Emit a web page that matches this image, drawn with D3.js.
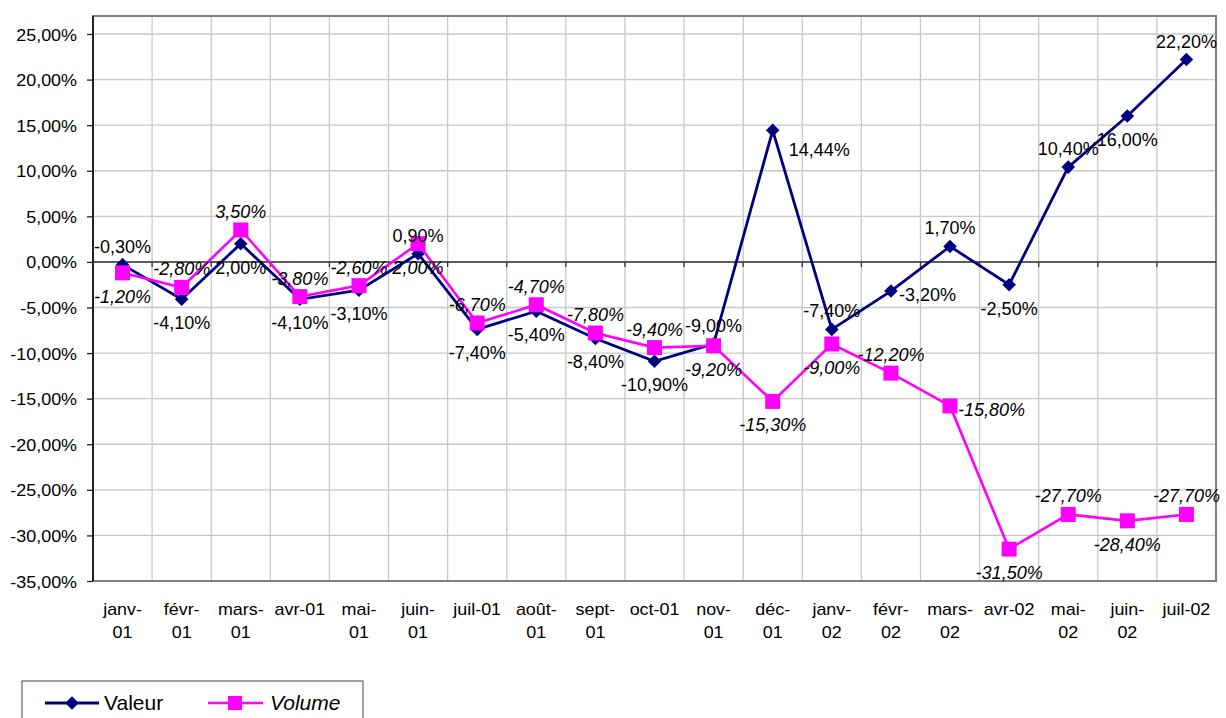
<!DOCTYPE html>
<html>
<head>
<meta charset="utf-8">
<script src="https://cdn.jsdelivr.net/npm/d3@7"></script>
<style>
  body { margin: 0; background: #fff; }
  text { font-family: Arial, "Liberation Sans", sans-serif; font-size: 16px; fill: #000; }
</style>
</head>
<body>
<div id="chart"></div>
<script>
// categories (two-line axis labels)
const months = ['janv-01', 'févr-01', 'mars-01', 'avr-01', 'mai-01', 'juin-01', 'juil-01', 'août-01',
  'sept-01', 'oct-01', 'nov-01', 'déc-01', 'janv-02', 'févr-02', 'mars-02', 'avr-02', 'mai-02', 'juin-02', 'juil-02'];
const monthLines = [['janv-', '01'], ['févr-', '01'], ['mars-', '01'], ['avr-01'], ['mai-', '01'], ['juin-', '01'],
  ['juil-01'], ['août-', '01'], ['sept-', '01'], ['oct-01'], ['nov-', '01'], ['déc-', '01'], ['janv-', '02'],
  ['févr-', '02'], ['mars-', '02'], ['avr-02'], ['mai-', '02'], ['juin-', '02'], ['juil-02']];

// series values (%)
const valeur = [-0.3, -4.1, 2.0, -4.1, -3.1, 0.9, -7.4, -5.4, -8.4, -10.9, -9.0, 14.44, -7.4, -3.2, 1.7, -2.5, 10.4, 16.0, 22.2];
const volume = [-1.2, -2.8, 3.5, -3.8, -2.6, 2.0, -6.7, -4.7, -7.8, -9.4, -9.2, -15.3, -9.0, -12.2, -15.8, -31.5, -27.7, -28.4, -27.7];

// data label placement: a = above, b = below, r = right, br = below right
const valeurPos = ['a', 'b', 'b', 'b', 'b', 'a', 'b', 'b', 'b', 'b', 'a', 'br', 'a', 'r', 'a', 'b', 'a', 'b', 'a'];
const volumePos = ['b', 'a', 'a', 'a', 'a', 'b', 'a', 'a', 'a', 'a', 'b', 'b', 'b', 'a', 'r', 'b', 'a', 'b', 'a'];

const yTicks = [-35, -30, -25, -20, -15, -10, -5, 0, 5, 10, 15, 20, 25];

const W = 1226, H = 718;
const plotL = 93, plotR = 1216, plotT = 16, plotB = 581;
const SX = 1.12; // axis text is slightly wide in the original

const fmt = v => d3.format('.2f')(v).replace('.', ',').replace('\u2212', '-') + '%';

const svg = d3.select('#chart').append('svg')
  .attr('width', W)
  .attr('height', H);

const x = d3.scaleBand().domain(months).range([plotL, plotR]);
const y = d3.scaleLinear().domain([-35, 25]).range([plotB, 34]);
const cx = m => x(m) + x.bandwidth() / 2;

// helper: text placed with horizontal stretch
function label(g, tx, ty, str, anchor, italic, size, sx) {
  return g.append('text')
    .attr('transform', `translate(${tx},${ty}) scale(${sx || SX},1)`)
    .attr('text-anchor', anchor || 'middle')
    .style('font-style', italic ? 'italic' : null)
    .style('font-size', (size || 16) + 'px')
    .text(str);
}

// gridlines
svg.append('g')
  .selectAll('line')
  .data(yTicks)
  .enter()
  .append('line')
    .attr('x1', plotL).attr('x2', plotR)
    .attr('y1', d => y(d)).attr('y2', d => y(d))
    .attr('stroke', '#c8c8c8').attr('stroke-width', 1.3);

svg.append('g')
  .selectAll('line')
  .data(months.slice(1))
  .enter()
  .append('line')
    .attr('x1', d => x(d)).attr('x2', d => x(d))
    .attr('y1', plotT).attr('y2', plotB)
    .attr('stroke', '#c8c8c8').attr('stroke-width', 1.3);

// plot border
svg.append('rect')
  .attr('x', plotL).attr('y', plotT)
  .attr('width', plotR - plotL).attr('height', plotB - plotT)
  .attr('fill', 'none').attr('stroke', '#808080').attr('stroke-width', 2);

// y axis
const yAxis = svg.append('g')
  .attr('transform', `translate(${plotL},0)`)
  .call(d3.axisLeft(y).tickValues(yTicks).tickSize(6).tickFormat(fmt));
yAxis.select('.domain').attr('stroke', '#222').attr('stroke-width', 2).attr('d', `M0,${plotT}V${plotB}`);
yAxis.selectAll('.tick line').attr('stroke', '#222').attr('stroke-width', 1.3);
yAxis.selectAll('.tick text')
  .attr('x', null)
  .attr('dy', null)
  .attr('transform', 'translate(-16,6) scale(' + SX + ',1)')
  .style('font-size', '16px')
  .style('font-family', 'Arial, "Liberation Sans", sans-serif')
  .attr('fill', '#000');

// zero line with category ticks
svg.append('line')
  .attr('x1', plotL).attr('x2', plotR)
  .attr('y1', y(0)).attr('y2', y(0))
  .attr('stroke', '#333').attr('stroke-width', 1.5);
svg.append('g')
  .selectAll('line')
  .data(months)
  .enter()
  .append('line')
    .attr('x1', d => x(d)).attr('x2', d => x(d))
    .attr('y1', y(0)).attr('y2', y(0) + 5)
    .attr('stroke', '#333').attr('stroke-width', 1.3);

// category labels at the bottom
const xl = svg.append('g');
months.forEach((m, i) => {
  monthLines[i].forEach((t, j) => {
    label(xl, cx(m), 615 + j * 23, t);
  });
});

// lines
const line = d3.line().x((d, i) => cx(months[i])).y(d => y(d));

svg.append('path')
  .datum(valeur)
  .attr('d', line)
  .attr('fill', 'none').attr('stroke', '#000080').attr('stroke-width', 2.8);

svg.append('g')
  .selectAll('path')
  .data(valeur)
  .enter()
  .append('path')
    .attr('d', d3.symbol().type(d3.symbolSquare).size(92))
    .attr('transform', (d, i) => `translate(${cx(months[i])},${y(d)}) rotate(45)`)
    .attr('fill', '#000080');

svg.append('path')
  .datum(volume)
  .attr('d', line)
  .attr('fill', 'none').attr('stroke', '#ff00ff').attr('stroke-width', 2.6);

svg.append('g')
  .selectAll('rect')
  .data(volume)
  .enter()
  .append('rect')
    .attr('x', (d, i) => cx(months[i]) - 7.5)
    .attr('y', d => y(d) - 7.5)
    .attr('width', 15).attr('height', 15)
    .attr('fill', '#ff00ff');

// data labels
function dataLabels(values, pos, italic) {
  const g = svg.append('g');
  values.forEach((v, i) => {
    const px = cx(months[i]), py = y(v);
    const p = pos[i];
    if (p === 'a') label(g, px, py - 12, fmt(v), 'middle', italic, 18, 1);
    else if (p === 'b') label(g, px, py + 30, fmt(v), 'middle', italic, 18, 1);
    else if (p === 'r') label(g, px + 8, py + 10, fmt(v), 'start', italic, 18, 1);
    else if (p === 'br') label(g, px + 16, py + 26, fmt(v), 'start', italic, 18, 1);
  });
}
dataLabels(valeur, valeurPos, false);
dataLabels(volume, volumePos, true);

// legend
const lg = svg.append('g');
lg.append('rect')
  .attr('x', 22).attr('y', 681)
  .attr('width', 341).attr('height', 50)
  .attr('fill', '#fff').attr('stroke', '#444').attr('stroke-width', 1);
lg.append('line').attr('x1', 45).attr('x2', 99).attr('y1', 703).attr('y2', 703)
  .attr('stroke', '#000080').attr('stroke-width', 2.8);
lg.append('path')
  .attr('d', d3.symbol().type(d3.symbolSquare).size(92))
  .attr('transform', 'translate(72,703) rotate(45)')
  .attr('fill', '#000080');
label(lg, 104, 710, 'Valeur', 'start', false, 21, 1);
lg.append('line').attr('x1', 208).attr('x2', 263).attr('y1', 703).attr('y2', 703)
  .attr('stroke', '#ff00ff').attr('stroke-width', 2.6);
lg.append('rect').attr('x', 228).attr('y', 696).attr('width', 14).attr('height', 14)
  .attr('fill', '#ff00ff');
label(lg, 270, 710, 'Volume', 'start', true, 21, 1);
</script>
</body>
</html>
